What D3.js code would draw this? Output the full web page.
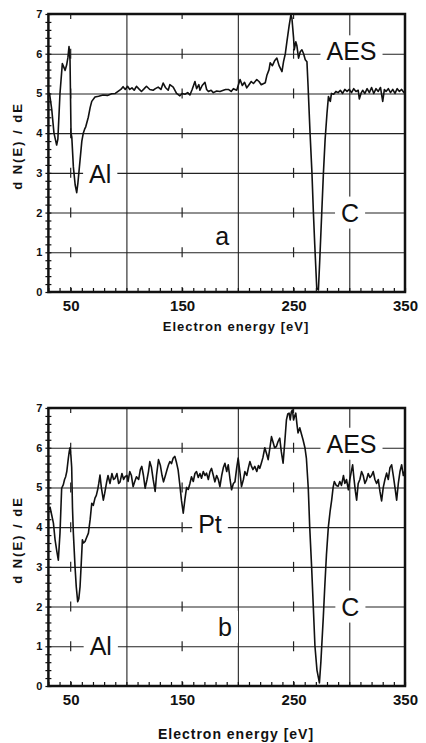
<!DOCTYPE html>
<html>
<head>
<meta charset="utf-8">
<script src="https://cdn.jsdelivr.net/npm/d3@7"></script>
<style>
	body { margin: 0; background: #fff; }
	svg { display: block; }
	text { font-family: "Liberation Sans", Arial, Helvetica, sans-serif; fill: #111; }
</style>
</head>
<body>
<svg id="chart" width="426" height="743"></svg>
<script>
// spectrum a (Al + C)
var energyA = [30,31,33,35,37.4,38.5,40.4,42.5,44,45,46.4,47.5,48.5,49.4,50.3,51,52.4,54,55.4,56.5,58.4,60,61.3,62.5,63.5,65.8,67.5,68.9,71.8,75,79,83,86.8,90,92.5,95,97,99,101,103,105,107,109,111,113.5,116,118,121,124,126,128.5,131,133,135,137.5,139,142,145,148,150,152.5,155,157,159,161.5,163,165,166,168,170.5,172,173.6,176,178,181,184,187,189,191.5,194,196,199,202,204,206,208,210,212,214,217,219,221,224.6,226,228,229,231,233,235,237,239.6,241,242.6,244,246,247.6,248.5,250,250.6,252,253,254.5,256,257.5,259,260.5,262,263,264.8,266.5,267.8,269,270.8,272.3,273.5,275.3,276.8,278.3,280,281.3,283,284,286,288,290,292,294,296,298,300,302,304,306,308,309,310.5,312,314,316,318,320,322,324,326,328,330,331.5,333,335,337,339,341,343,345,347,349,350];
var signalA = [4.95,5.0,4.6,4.0,3.7,3.85,5.0,5.75,5.65,5.58,5.72,5.9,6.18,5.84,4.0,3.9,3.15,2.7,2.5,2.75,3.32,3.8,4.0,4.1,4.16,4.4,4.65,4.8,4.91,4.93,4.96,4.95,4.99,5.0,5.05,5.1,5.17,5.1,5.18,5.1,5.14,5.08,5.18,5.12,5.05,5.12,5.18,5.1,5.08,5.12,5.16,5.1,5.26,5.15,5.08,5.22,5.16,5.0,4.94,5.0,4.98,5.02,4.96,5.1,5.3,5.12,5.22,5.08,5.2,5.28,5.1,5.05,5.08,5.02,5.06,5.05,5.08,5.1,5.1,5.05,5.12,5.08,5.35,5.2,5.28,5.14,5.22,5.3,5.25,5.35,5.3,5.22,5.27,5.45,5.6,5.77,5.7,5.82,5.89,5.7,5.55,5.8,6.0,6.3,6.7,6.98,6.9,6.4,6.1,6.3,6.2,5.89,6.05,6.1,6.0,5.85,5.8,5.2,4.0,3.0,2.0,1.2,0.1,0.05,0.8,2.0,3.0,3.83,4.5,4.92,4.8,5.0,4.98,5.05,5.02,5.08,5.0,5.1,5.05,5.1,5.02,5.12,5.05,5.08,4.86,5.0,5.08,5.0,5.12,5.02,5.15,5.0,5.12,5.05,5.15,4.8,5.1,5.05,5.12,5.02,5.1,5.0,5.12,5.05,5.1,5.02,5.08];

// spectrum b (Al + Pt + C)
var energyB = [30,31.5,33,34.5,36,37.5,38.9,40.4,41.9,43.4,44.5,45.5,46.5,47.9,48.7,49.4,50.2,50.9,51.6,52.4,53.9,55,56.3,57.3,58.4,59.5,60.5,61.5,62.9,64,65.9,67.5,68.9,70.3,71.8,73,74.2,75.2,76.3,77.5,79.3,80.5,82.3,83.5,85.3,87,88.5,89.8,91.5,93,94.3,96,97.5,98.8,100.5,101.5,103,104.5,106,107.5,109,111,112.5,113.8,115.3,116.8,118.5,119.8,121,122.5,124,125.8,127,128.8,130.5,132,133.3,135,136.5,137.8,139,140.5,142,143.5,145,146.4,147.8,149.4,150.3,151,152.5,154,155.5,157,158.4,160,161.5,162.9,164.5,166,167.4,169,170.5,171.9,173.5,175,176.4,178,179.4,181,182.5,183.9,185.5,187,188.4,190,191.4,193,194.4,196,197.4,199,200.3,201.8,203.3,205,206.3,208,209.5,210.8,212,213.5,215.2,217,218.5,219.7,221,222.5,224.2,225.8,227.2,228.8,230.2,231.5,233,234.6,236,237.6,239,240.6,242,243.6,244.8,246,247,248,249,250,251,252,253,254,255.6,257,258.5,260.2,261.5,263.2,264.5,266.2,267.7,269.2,271,273.2,274.5,276.7,278,279.5,281.2,282.8,284.2,285.5,286.6,288.3,290,291.5,293,294.8,296,297.5,299.2,300.5,301.8,303,304.3,305.5,306.6,308,309.5,311,312.5,314,315.5,317,318.5,320,321.5,323,324.5,326,327.5,329,330.5,332,333.5,335,336.5,338,339.5,341,342.5,344,345.5,347,348.5,350];
var signalB = [4.43,4.5,4.3,4.1,3.68,3.4,3.17,3.85,4.98,5.07,5.2,5.27,5.4,5.74,5.9,6.0,5.8,5.5,4.5,3.85,3.0,2.5,2.12,2.2,2.5,3.1,3.68,3.6,3.64,3.72,3.85,4.2,4.6,4.55,4.73,4.8,4.94,5.1,5.31,5.0,4.68,4.85,5.14,5.3,5.1,5.35,5.2,5.23,5.35,5.1,5.14,5.35,5.2,5.27,5.3,5.15,5.4,5.3,5.02,5.15,5.27,5.2,5.45,5.53,5.3,4.98,5.2,5.4,5.65,5.5,5.2,4.9,5.3,5.7,5.55,5.3,5.14,5.3,5.45,5.57,5.65,5.6,5.74,5.78,5.62,5.44,5.1,4.68,4.5,4.35,4.7,5.0,4.95,5.1,5.27,5.15,5.35,5.4,5.25,5.35,5.23,5.4,5.3,5.36,5.2,5.4,5.48,5.3,5.14,5.3,5.2,5.02,5.3,5.5,5.61,5.4,5.57,5.2,4.94,5.1,5.14,5.5,5.74,5.4,5.02,5.2,5.4,5.3,5.5,5.65,5.55,5.45,5.53,5.4,5.55,5.48,5.6,5.75,6.0,5.85,5.7,6.0,6.28,6.15,6.0,6.03,6.15,6.24,5.9,5.61,6.1,6.7,6.85,6.87,6.7,6.9,6.95,6.7,6.8,6.87,6.6,6.37,6.5,6.35,6.2,6.0,5.74,4.98,4.0,3.0,2.0,1.0,0.4,0.08,0.6,1.74,2.5,3.3,4.0,4.4,4.68,5.0,5.15,5.05,5.03,5.15,5.05,5.3,5.1,5.2,4.94,5.2,5.4,5.57,5.2,4.9,4.68,5.1,5.2,5.4,5.3,5.1,5.19,5.35,5.25,5.3,5.4,5.2,5.1,5.2,4.9,4.66,5.0,5.2,5.36,5.2,5.5,5.57,5.3,5.0,4.68,5.1,5.4,5.57,5.3,5.44];

var xTickLabels = [50, 150, 250, 350];
var yTickLabels = [0, 1, 2, 3, 4, 5, 6, 7];
var xGrid = [100, 200, 300];
var yGrid = [1, 2, 3, 4, 5, 6];
var xCross = [50, 150, 250];
var xDomain = [30, 350];
var yDomain = [0, 7];

// annotations: [text, energy, value]
var notesA = [["AES", 302, 6.06], ["Al", 76.5, 2.97], ["C", 300.7, 2.0], ["a", 186, 1.42]];
var notesB = [["AES", 302, 6.1], ["Pt", 175, 4.08], ["C", 301, 2.0], ["b", 188.5, 1.49], ["Al", 77, 1.0]];

var svg = d3.select('#chart');

var left = 48.4,
	right = 405,
	plotHeight = 278;

function panel(top, energy, signal, notes, titleY, titleSize){
	var bottom = top + plotHeight;
	var data = energy.map(function(e, i){ return {e: e, v: signal[i]}; });

	var x = d3.scaleLinear().domain(xDomain).range([left, right]);
	var y = d3.scaleLinear().domain(yDomain).range([bottom, top]);

	var g = svg.append('g');

	// horizontal grid
	g.append('g')
		.attr('transform', 'translate(' + left + ',0)')
		.call(d3.axisLeft(y).tickValues(yGrid).tickSize(-(right - left)).tickFormat(''))
		.call(function(s){ s.select('.domain').remove(); })
		.selectAll('line').attr('stroke', '#222').attr('stroke-width', 1.1);

	// vertical grid
	g.append('g')
		.attr('transform', 'translate(0,' + bottom + ')')
		.call(d3.axisBottom(x).tickValues(xGrid).tickSize(-plotHeight).tickFormat(''))
		.call(function(s){ s.select('.domain').remove(); })
		.selectAll('line').attr('stroke', '#222').attr('stroke-width', 1.1);

	// little crosses at 50/150/250 on every grid level
	var crosses = [];
	xCross.forEach(function(e){
		yTickLabels.forEach(function(v){ crosses.push({e: e, v: v}); });
	});
	g.append('g').selectAll('line')
		.data(crosses)
		.enter().append('line')
		.attr('x1', function(d){ return x(d.e); })
		.attr('x2', function(d){ return x(d.e); })
		.attr('y1', function(d){ return Math.min(bottom, y(d.v) + 5); })
		.attr('y2', function(d){ return Math.max(top, y(d.v) - 5); })
		.attr('stroke', '#222')
		.attr('stroke-width', 1.2);

	// minor ticks, left and bottom
	var minorY = d3.range(0, 7.01, 0.2);
	g.append('g')
		.attr('transform', 'translate(' + left + ',0)')
		.call(d3.axisLeft(y).tickValues(minorY).tickSize(3).tickFormat(''))
		.call(function(s){ s.select('.domain').remove(); })
		.selectAll('line').attr('stroke', '#111').attr('stroke-width', 1.2);
	g.append('g')
		.attr('transform', 'translate(' + left + ',0)')
		.call(d3.axisLeft(y).tickValues(minorY).tickSize(-3).tickFormat(''))
		.call(function(s){ s.select('.domain').remove(); })
		.selectAll('line').attr('stroke', '#111').attr('stroke-width', 1.2);
	g.append('g')
		.attr('transform', 'translate(0,' + bottom + ')')
		.call(d3.axisBottom(x).tickValues(d3.range(30, 351, 10)).tickSize(-4).tickFormat(''))
		.call(function(s){ s.select('.domain').remove(); })
		.selectAll('line').attr('stroke', '#111').attr('stroke-width', 1.2);

	// white boxes behind the labels, then the labels
	var boxes = g.append('g');
	var labels = g.append('g');
	notes.forEach(function(n){
		var t = labels.append('text')
			.attr('x', x(n[1]))
			.attr('y', y(n[2]))
			.attr('dy', '0.36em')
			.attr('text-anchor', 'middle')
			.style('font-size', '25px')
			.text(n[0]);
		var b = t.node().getBBox();
		boxes.append('rect')
			.attr('x', b.x - 6)
			.attr('y', b.y - 2)
			.attr('width', b.width + 12)
			.attr('height', b.height + 4)
			.attr('fill', '#fff');
	});

	// the spectrum
	var line = d3.line()
		.x(function(d){ return x(d.e); })
		.y(function(d){ return y(d.v); });

	g.append('path')
		.datum(data)
		.attr('d', line)
		.attr('fill', 'none')
		.attr('stroke', '#111')
		.attr('stroke-width', 1.6)
		.attr('stroke-linejoin', 'round');

	labels.raise();

	// frame
	g.append('rect')
		.attr('x', left)
		.attr('y', top)
		.attr('width', right - left)
		.attr('height', plotHeight)
		.attr('fill', 'none')
		.attr('stroke', '#111')
		.attr('stroke-width', 2.5);

	// tick labels
	var yAxis = g.append('g')
		.attr('transform', 'translate(' + (left - 4) + ',0)')
		.call(d3.axisLeft(y).tickValues(yTickLabels).tickSize(0).tickPadding(2).tickFormat(d3.format('d')));
	yAxis.select('.domain').remove();
	yAxis.selectAll('text')
		.style('font-size', '11px')
		.style('font-weight', 'bold')
		.attr('fill', '#111');

	var xAxis = g.append('g')
		.attr('transform', 'translate(0,' + bottom + ')')
		.call(d3.axisBottom(x).tickValues(xTickLabels).tickSize(0).tickPadding(8).tickFormat(d3.format('d')));
	xAxis.select('.domain').remove();
	xAxis.selectAll('text')
		.style('font-size', '15px')
		.style('font-weight', 'bold')
		.attr('fill', '#111');

	// axis titles
	g.append('text')
		.attr('transform', 'translate(22,' + (top + 132) + ') rotate(-90)')
		.attr('text-anchor', 'middle')
		.style('font-size', '13px')
		.style('font-weight', 'bold')
		.style('letter-spacing', '2px')
		.text('d N(E) / dE');

	g.append('text')
		.attr('x', 236)
		.attr('y', titleY)
		.attr('text-anchor', 'middle')
		.style('font-size', titleSize)
		.style('font-weight', 'bold')
		.style('letter-spacing', '1px')
		.text('Electron energy [eV]');
}

panel(14, energyA, signalA, notesA, 331, '13px');
panel(408, energyB, signalB, notesB, 739, '14px');
</script>
</body>
</html>
